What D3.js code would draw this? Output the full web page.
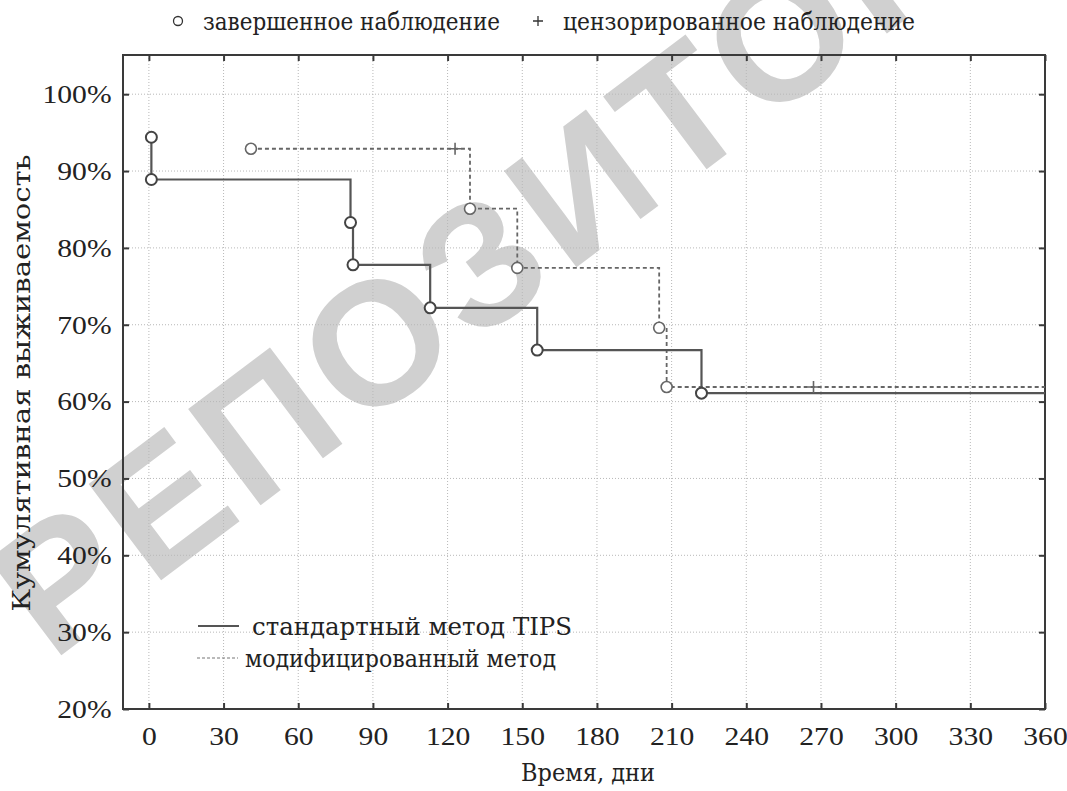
<!DOCTYPE html>
<html><head><meta charset="utf-8">
<script src="https://cdn.jsdelivr.net/npm/d3@7"></script>
<style>body{margin:0;background:#fff}svg{display:block}</style>
</head><body><svg id="c" width="1067" height="791"></svg>
<script>
// ---- data ----
const xTicks = [0,30,60,90,120,150,180,210,240,270,300,330,360];
const yTicks = [20,30,40,50,60,70,80,90,100];
const standardTimes = [1,1,81,82,113,156,222];
const standardSurv  = [94.4,88.9,83.3,77.8,72.2,66.7,61.1];
const modifiedTimes = [41,129,148,205,208];
const modifiedSurv  = [92.9,85.1,77.4,69.6,61.9];
const modifiedCensorTimes = [123,267];
const modifiedCensorSurv  = [92.9,61.9];
const seriesNames = ["стандартный метод TIPS","модифицированный метод"];
const markerNames = ["завершенное наблюдение","цензорированное наблюдение"];
const xTitle = "Время, дни";
const yTitle = "Кумулятивная выживаемость";
const watermark = "РЕПОЗИТОРИЙ";

const svg = d3.select("#c");
const L=123, R=1045, T=55, B=709;
const x = d3.scaleLinear().domain([-10.4,360]).range([L,R]);
const y = d3.scaleLinear().domain([20,105.1]).range([B,T]);
const numFont = "'Liberation Serif','Times New Roman',serif";
const cyrFont = "'DejaVu Serif',serif";
const ink = "#3a3a3a";
const FS = 26, SX = 1.14;

// watermark
svg.append("text").attr("transform","translate(585,185) rotate(-37)")
  .attr("text-anchor","middle").attr("dominant-baseline","central")
  .attr("font-family","'Liberation Sans',Arial,sans-serif").attr("font-weight","bold")
  .attr("font-size",175).attr("letter-spacing",8).attr("fill","#d0d0d0")
  .text(watermark);

// grid
const g = svg.append("g");
g.selectAll(".gx").data(xTicks).join("line")
  .attr("x1",d=>x(d)).attr("x2",d=>x(d)).attr("y1",T).attr("y2",B)
  .attr("stroke","#b8b8b8").attr("stroke-width",1).attr("stroke-dasharray","1,2");
g.selectAll(".gy").data(yTicks).join("line")
  .attr("x1",L).attr("x2",R).attr("y1",d=>y(d)).attr("y2",d=>y(d))
  .attr("stroke","#b8b8b8").attr("stroke-width",1).attr("stroke-dasharray","1,2");

// axes with inward ticks
const axB = d3.axisBottom(x).tickValues(xTicks).tickSize(-6).tickPadding(18).tickFormat(d3.format("d"));
const axL = d3.axisLeft(y).tickValues(yTicks).tickSize(-6).tickPadding(10).tickFormat(d=>d+"%");
const axT = d3.axisTop(x).tickValues(xTicks).tickSize(-6).tickFormat("");
const axR = d3.axisRight(y).tickValues(yTicks).tickSize(-6).tickFormat("");
function style(sel){
  sel.select(".domain").remove();
  sel.selectAll(".tick line").attr("stroke",ink).attr("stroke-width",2);
  sel.selectAll("text").attr("font-family",numFont).attr("font-size",FS).attr("fill","#222")
    .attr("transform",`scale(${SX},1)`);
}
svg.append("g").attr("transform",`translate(0,${B})`).call(axB).call(style);
svg.append("g").attr("transform",`translate(${L},0)`).call(axL).call(style);
svg.append("g").attr("transform",`translate(0,${T})`).call(axT).call(style);
svg.append("g").attr("transform",`translate(${R},0)`).call(axR).call(style);
svg.append("rect").attr("x",L).attr("y",T).attr("width",R-L).attr("height",B-T)
  .attr("fill","none").attr("stroke",ink).attr("stroke-width",2);

// curves
const line = d3.line().x(d=>x(d[0])).y(d=>y(d[1])).curve(d3.curveStepAfter);
const stdPts = standardTimes.map((t,i)=>[t,standardSurv[i]]);
const modPts = modifiedTimes.map((t,i)=>[t,modifiedSurv[i]]);
const stdLine = stdPts.concat([[360,standardSurv[standardSurv.length-1]]]);
const modLine = modPts.concat([[360,modifiedSurv[modifiedSurv.length-1]]]);
svg.append("path").attr("d",line(modLine)).attr("fill","none")
  .attr("stroke","#666").attr("stroke-width",1.8).attr("stroke-dasharray","4,3");
svg.append("path").attr("d",line(stdLine)).attr("fill","none")
  .attr("stroke","#555").attr("stroke-width",2.2);

// censor marks
const cens = modifiedCensorTimes.map((t,i)=>[t,modifiedCensorSurv[i]]);
svg.selectAll(".cs").data(cens).join("path")
  .attr("d",d=>`M${x(d[0])-6},${y(d[1])}h12M${x(d[0])},${y(d[1])-6}v12`)
  .attr("stroke","#666").attr("stroke-width",1.6);

// circles
svg.selectAll(".cm").data(modPts).join("circle")
  .attr("cx",d=>x(d[0])).attr("cy",d=>y(d[1])).attr("r",5.5)
  .attr("fill","#fff").attr("stroke","#666").attr("stroke-width",1.6);
svg.selectAll(".cst").data(stdPts).join("circle")
  .attr("cx",d=>x(d[0])).attr("cy",d=>y(d[1])).attr("r",5.5)
  .attr("fill","#fff").attr("stroke","#444").attr("stroke-width",2);

function txt(parent, px, py, s, len, anchor){
  return parent.append("text").attr("x",px).attr("y",py)
    .attr("text-anchor",anchor||"start").attr("font-family",cyrFont).attr("font-size",24)
    .attr("textLength",len).attr("lengthAdjust","spacingAndGlyphs")
    .attr("fill","#222").text(s);
}
// top legend
const tl = svg.append("g");
tl.append("circle").attr("cx",178).attr("cy",21).attr("r",4.5).attr("fill","#fff").attr("stroke","#333").attr("stroke-width",1.3);
txt(tl,203,30,markerNames[0],297);
tl.append("path").attr("d","M533,21h10M538,16v10").attr("stroke","#333").attr("stroke-width",1.3);
txt(tl,563,30,markerNames[1],352);

// bottom-left legend
const bl = svg.append("g");
bl.append("line").attr("x1",198).attr("x2",239).attr("y1",626).attr("y2",626).attr("stroke","#555").attr("stroke-width",2);
txt(bl,252,635,seriesNames[0],320);
bl.append("line").attr("x1",197).attr("x2",238).attr("y1",658).attr("y2",658).attr("stroke","#777").attr("stroke-width",1.2).attr("stroke-dasharray","3,2");
txt(bl,245,667,seriesNames[1],311);

// axis titles
txt(svg,588,781,xTitle,134,"middle");
svg.append("text").attr("transform",`translate(30,383) rotate(-90)`).attr("text-anchor","middle")
  .attr("font-family",cyrFont).attr("font-size",24).attr("textLength",457).attr("lengthAdjust","spacingAndGlyphs")
  .attr("fill","#222").text(yTitle);
</script></body></html>
